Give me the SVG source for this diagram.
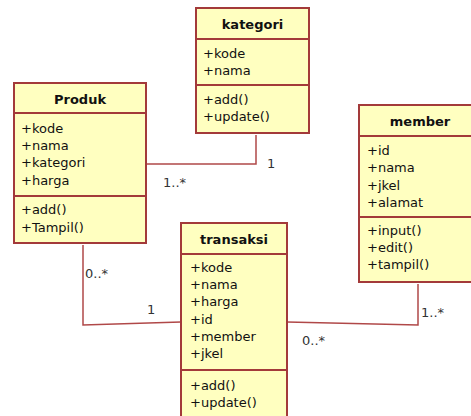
<svg xmlns="http://www.w3.org/2000/svg" width="471" height="416" viewBox="0 0 471 416">
<style>
.box{fill:#FFFFC0;stroke:#A33A3A;stroke-width:2}
.div{stroke:#A33A3A;stroke-width:2}
.t{font-family:"DejaVu Sans",Verdana,sans-serif;font-size:13px;fill:#111}
.h{font-family:"DejaVu Sans",Verdana,sans-serif;font-size:13px;font-weight:bold;fill:#111;text-anchor:middle}
.c{fill:none;stroke:#B04848;stroke-width:1.5}
.m{font-family:"DejaVu Sans",Verdana,sans-serif;font-size:13px;fill:#333}
</style>
<rect width="471" height="416" fill="#fff"/>
<g id="connectors">
<polyline class="c" points="146,164 256,164 256,135"/>
<polyline class="c" points="83,245 83,325 181,322"/>
<polyline class="c" points="287,322 418,325 418,284"/>
</g>
<g id="labels">
<text class="m" x="267" y="168">1</text>
<text class="m" x="163" y="187">1..*</text>
<text class="m" x="85" y="278">0..*</text>
<text class="m" x="147" y="314">1</text>
<text class="m" x="421" y="317">1..*</text>
<text class="m" x="302" y="345">0..*</text>
</g>
<g id="kategori">
<rect class="box" x="196" y="8" width="113" height="125"/>
<line class="div" x1="196" y1="39" x2="309" y2="39"/>
<line class="div" x1="196" y1="85" x2="309" y2="85"/>
<text class="h" x="252.5" y="29">kategori</text>
<text class="t" x="203" y="58">+kode</text>
<text class="t" x="203" y="75">+nama</text>
<text class="t" x="203" y="104">+add()</text>
<text class="t" x="203" y="121">+update()</text>
</g>
<g id="produk">
<rect class="box" x="14" y="83" width="132" height="160"/>
<line class="div" x1="14" y1="113" x2="146" y2="113"/>
<line class="div" x1="14" y1="196" x2="146" y2="196"/>
<text class="h" x="80" y="104">Produk</text>
<text class="t" x="21" y="133">+kode</text>
<text class="t" x="21" y="150">+nama</text>
<text class="t" x="21" y="167">+kategori</text>
<text class="t" x="21" y="185">+harga</text>
<text class="t" x="21" y="214">+add()</text>
<text class="t" x="21" y="232">+Tampil()</text>
</g>
<g id="member">
<rect class="box" x="359" y="105" width="125" height="177"/>
<line class="div" x1="359" y1="136" x2="484" y2="136"/>
<line class="div" x1="359" y1="217" x2="484" y2="217"/>
<text class="h" x="420" y="126">member</text>
<text class="t" x="367" y="155">+id</text>
<text class="t" x="367" y="172">+nama</text>
<text class="t" x="367" y="190">+jkel</text>
<text class="t" x="367" y="207">+alamat</text>
<text class="t" x="367" y="235">+input()</text>
<text class="t" x="367" y="252">+edit()</text>
<text class="t" x="367" y="269">+tampil()</text>
</g>
<g id="transaksi">
<rect class="box" x="181" y="223" width="106" height="200"/>
<line class="div" x1="181" y1="254" x2="287" y2="254"/>
<line class="div" x1="181" y1="370" x2="287" y2="370"/>
<text class="h" x="234" y="244">transaksi</text>
<text class="t" x="190" y="272">+kode</text>
<text class="t" x="190" y="289">+nama</text>
<text class="t" x="190" y="306">+harga</text>
<text class="t" x="190" y="324">+id</text>
<text class="t" x="190" y="341">+member</text>
<text class="t" x="190" y="358">+jkel</text>
<text class="t" x="190" y="390">+add()</text>
<text class="t" x="190" y="407">+update()</text>
</g>
</svg>
